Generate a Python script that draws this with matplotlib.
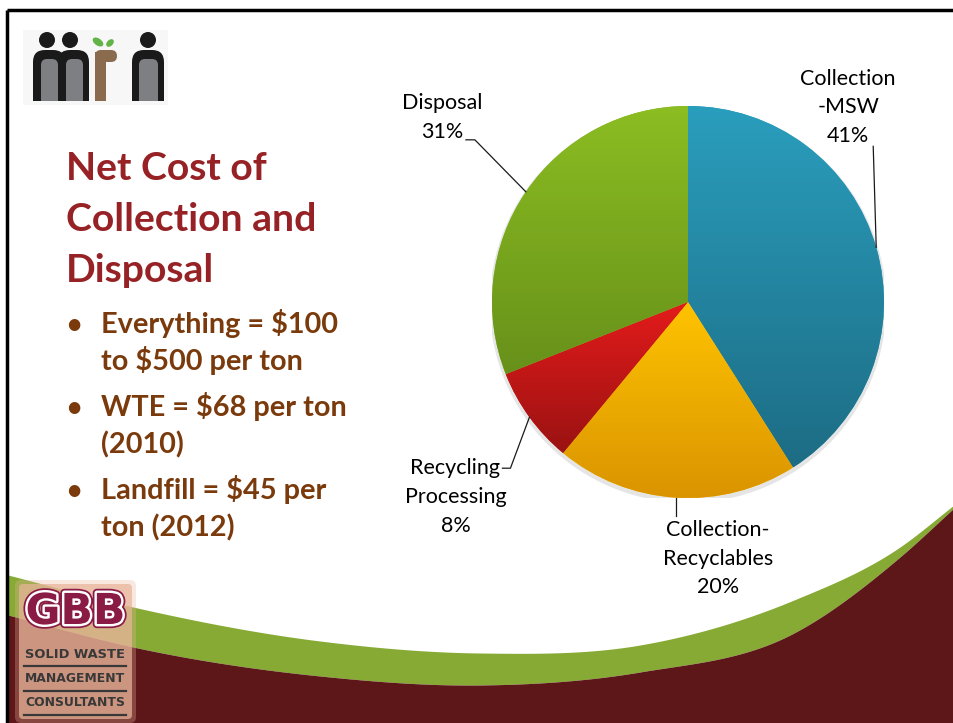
import numpy as np
import matplotlib.pyplot as plt
from matplotlib.patches import Rectangle, FancyBboxPatch, Circle, Ellipse
from matplotlib.colors import LinearSegmentedColormap
import matplotlib.patheffects as pe

plt.rcParams['font.family'] = ['Lato', 'DejaVu Sans']

# pie data
labels = ['Collection\n-MSW', 'Collection-\nRecyclables', 'Recycling\nProcessing', 'Disposal']
shares = [41, 20, 8, 31]
top_colors = ['#2A9EBD', '#FFC300', '#E41B1B', '#8CBD22']
bottom_colors = ['#1D6C84', '#DA9400', '#9A1212', '#67911A']

# slide text
title_lines = ['Net Cost of', 'Collection and', 'Disposal']
bullets = [['Everything = $100', 'to $500 per ton'],
           ['WTE = $68 per ton', '(2010)'],
           ['Landfill = $45 per', 'ton (2012)']]
logo_lines = ['SOLID WASTE', 'MANAGEMENT', 'CONSULTANTS']

# swoosh edges (slide artwork, pixel coords)
swoosh_x = [8, 133, 320, 480, 640, 794, 900, 954]
swoosh_top = [575, 607, 641, 653, 645, 600, 547, 505]
swoosh_bot = [615, 647, 676, 685, 672, 633, 557, 508]

W, H = 954, 723
fig = plt.figure(figsize=(W / 100, H / 100), dpi=100, facecolor='white')
ax = fig.add_axes([0, 0, 1, 1])
ax.set_xlim(0, W)
ax.set_ylim(H, 0)
ax.axis('off')


def smooth(xk, yk, xs):
    # cubic hermite through the knots
    xk, yk = np.asarray(xk, float), np.asarray(yk, float)
    m = np.gradient(yk, xk)
    i = np.clip(np.searchsorted(xk, xs) - 1, 0, len(xk) - 2)
    h = xk[i + 1] - xk[i]
    t = (xs - xk[i]) / h
    h00 = 2 * t**3 - 3 * t**2 + 1
    h10 = t**3 - 2 * t**2 + t
    h01 = -2 * t**3 + 3 * t**2
    h11 = t**3 - t**2
    return h00 * yk[i] + h10 * h * m[i] + h01 * yk[i + 1] + h11 * h * m[i + 1]


# background swoosh
xs = np.linspace(8, W + 2, 500)
top = smooth(swoosh_x, swoosh_top, xs)
bot = np.maximum(smooth(swoosh_x, swoosh_bot, xs), top)
ax.fill_between(xs, top, bot, color='#87AA35', lw=0, zorder=1)
ax.fill_between(xs, bot, H, color='#5E1719', lw=0, zorder=1)

# slide frame
ax.plot([7, 7], [10, H], color='black', lw=2.5, zorder=5, solid_capstyle='butt')
ax.plot([7, W - 1], [10, 10], color='black', lw=2.5, zorder=5, solid_capstyle='butt')

# GBB logo
ax.add_patch(FancyBboxPatch((15, 580), 121, 143, boxstyle='round,pad=0,rounding_size=6',
                            fc='#E8B49A', alpha=0.3, ec='none', zorder=2))
ax.add_patch(FancyBboxPatch((19, 584), 113, 135, boxstyle='round,pad=0,rounding_size=4',
                            fc='#E8B49A', alpha=0.72, ec='none', zorder=2))
renderer = fig.canvas.get_renderer()


def fit(t, width):
    bb = t.get_window_extent(renderer)
    t.set_fontsize(t.get_fontsize() * width / bb.width)


g = ax.text(75.5, 612, 'GBB', ha='center', va='center', fontsize=30, weight='bold',
            family='DejaVu Sans', color='#8A1B45', zorder=4,
            path_effects=[pe.Stroke(linewidth=6, foreground='#8A1B45'),
                          pe.Stroke(linewidth=3.5, foreground='white'), pe.Normal()])
fit(g, 100)
for i, s in enumerate(logo_lines):
    t = ax.text(75, 655 + 24 * i, s, ha='center', va='center', fontsize=8, weight='bold',
                family='DejaVu Sans', color='#383838', zorder=4)
    fit(t, 100)
    ax.plot([24, 126], [666 + 24.5 * i] * 2, color='#383838', lw=1.6, zorder=4)

# mrn logo
ax.add_patch(Rectangle((23, 30), 145, 75, fc='#F7F7F7', ec='none', zorder=2))


def arch(x0, x1, y0, y1, outer, inner, lpad, rpad):
    ax.add_patch(FancyBboxPatch((x0, y0), x1 - x0, y1 - y0,
                                boxstyle='round,pad=0,rounding_size=12', fc=outer, ec='none', zorder=3))
    ax.add_patch(Rectangle((x0, (y0 + y1) / 2), x1 - x0, (y1 - y0) / 2, fc=outer, ec='none', zorder=3))
    if inner:
        ax.add_patch(FancyBboxPatch((x0 + lpad, y0 + 9), x1 - x0 - lpad - rpad, y1 - y0 - 9,
                                    boxstyle='round,pad=0,rounding_size=6', fc=inner, ec='none', zorder=3))
        ax.add_patch(Rectangle((x0 + lpad, y0 + 30), x1 - x0 - lpad - rpad, y1 - y0 - 30,
                               fc=inner, ec='none', zorder=3))


arch(33, 65, 50, 101, '#1A1A1A', '#7E7F82', 8, 7)
arch(58, 89, 50, 101, '#1A1A1A', '#7E7F82', 8, 6)
arch(132, 164, 50, 101, '#1A1A1A', '#7E7F82', 7, 6)
ax.add_patch(Rectangle((95, 52), 11, 49, fc='#8A6B4E', ec='none', zorder=3))
ax.add_patch(FancyBboxPatch((95, 50), 22, 12, boxstyle='round,pad=0,rounding_size=6',
                            fc='#8A6B4E', ec='none', zorder=3))
for hx in (47, 70, 148):
    ax.add_patch(Circle((hx, 40), 8, fc='#1A1A1A', ec='none', zorder=3))
ax.add_patch(Ellipse((98, 42), 12, 7, angle=35, fc='#62B446', ec='none', zorder=3))
ax.add_patch(Ellipse((110, 43), 9, 6, angle=-45, fc='#62B446', ec='none', zorder=3))

# title and bullets
title_color = '#962226'
for i, s in enumerate(title_lines):
    ax.text(66, 180 + 51 * i, s, fontsize=28.2, weight='bold', color=title_color, va='baseline', zorder=4)

text_color = '#7A3A0C'
y = 333
for b in bullets:
    ax.text(66, y, '\u2022', fontsize=19, weight='bold', color=text_color, va='baseline', zorder=4)
    for line in b:
        ax.text(101, y, line, fontsize=20.8, weight='bold', color=text_color, va='baseline', zorder=4)
        y += 37
    y += 9

# pie chart
cx, cy, R = 688, 302, 196
pax = fig.add_axes([(cx - R) / W, (H - cy - R) / H, 2 * R / W, 2 * R / H])
pax.axis('off')
pax.add_patch(Circle((0.0, -0.012), 1.012, fc='#999999', alpha=0.25, ec='none', zorder=0))
wedges, _ = pax.pie(shares, startangle=90, counterclock=False, radius=1, colors=top_colors,
                    wedgeprops=dict(edgecolor='none'))
grad = np.linspace(0, 1, 256)[:, None]
for w, c0, c1 in zip(wedges, top_colors, bottom_colors):
    bb = w.get_path().get_extents(w.get_patch_transform())
    cmap = LinearSegmentedColormap.from_list('g', [c0, c1])
    im = pax.imshow(grad, cmap=cmap, extent=(bb.x0, bb.x1, bb.y0, bb.y1), origin='upper',
                    aspect='auto', zorder=2)
    im.set_clip_path(w)
pax.set_xlim(-1, 1)
pax.set_ylim(-1, 1)

# label placement (pixels from wedge edge)
label_off = [(-28, 140), (42, -61), (-74, -80), (-84, 74)]
leader_pts = [[(-3, 101)], [(0, -18)], [(-19, -51), (-27, -51)], [(-51, 52), (-60, 52)]]
for w, lab, sh, off, pts in zip(wedges, labels, shares, label_off, leader_pts):
    th = np.deg2rad((w.theta1 + w.theta2) / 2)
    ex, ey = np.cos(th), np.sin(th)
    lx = [ex] + [ex + p[0] / R for p in pts]
    ly = [ey] + [ey + p[1] / R for p in pts]
    pax.plot(lx, ly, color='#1A1A1A', lw=0.9, clip_on=False, zorder=5)
    pax.text(ex + off[0] / R, ey + off[1] / R, f'{lab}\n{sh}%', ha='center', va='center',
             fontsize=15.5, linespacing=1.55, color='black', clip_on=False, zorder=5)

fig.savefig('out.png', dpi=100, facecolor='white')
